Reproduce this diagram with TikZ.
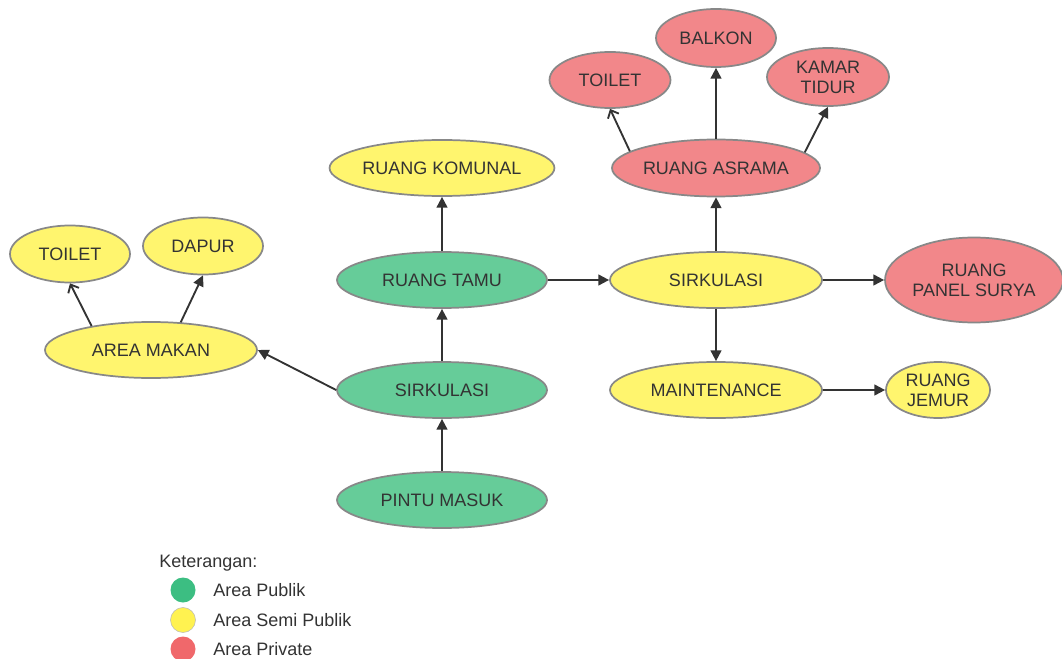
\documentclass[tikz,border=0pt]{standalone}
\usepackage{fontspec}
\setmainfont{Liberation Sans}
\usetikzlibrary{shapes.geometric,arrows.meta}

\definecolor{pubfill}{RGB}{102,204,153}
\definecolor{semifill}{RGB}{255,245,110}
\definecolor{privfill}{RGB}{242,135,138}
\definecolor{rim}{RGB}{136,136,136}
\definecolor{ink}{RGB}{51,51,51}
\definecolor{keypub}{RGB}{60,190,130}
\definecolor{keysemi}{RGB}{255,242,80}
\definecolor{keypriv}{RGB}{240,104,107}

\tikzset{
  room/.style={ellipse, draw=rim, line width=1.3pt, inner sep=0pt,
    text=ink, align=center, font=\fontsize{13.5}{15}\selectfont},
  pub/.style={room, fill=pubfill},
  semi/.style={room, fill=semifill},
  priv/.style={room, fill=privfill},
  big/.style={minimum width=210*0.75pt, minimum height=56*0.75pt},
  small/.style={minimum width=120*0.75pt, minimum height=57*0.75pt},
  link/.style={draw=ink, line width=1.4pt, -{Triangle[length=8pt,width=8pt]}},
  openlink/.style={draw=ink, line width=1.4pt, -{Straight Barb[length=5pt,width=9pt]}},
  keydot/.style={circle, minimum size=25*0.75pt, inner sep=0pt},
  keytext/.style={anchor=west, inner sep=0pt, text=ink, font=\fontsize{13.5}{15}\selectfont},
}

\begin{document}
\begin{tikzpicture}[x=0.75pt,y=-0.75pt]
\useasboundingbox (0,0) rectangle (1062,659);

% left wing: dining area
\node[semi, small] (toiletL) at (70,254) {TOILET};
\node[semi, small] (dapur) at (203,246) {DAPUR};
\node[semi, big, minimum width=212*0.75pt] (makan) at (151,350) {AREA MAKAN};

% central spine
\node[semi, big, minimum width=211*0.75pt] (komunal) at (442,168) {RUANG KOMUNAL};
\node[pub, big] (tamu) at (442,280) {RUANG TAMU};
\node[pub, big] (sirkL) at (442,390) {SIRKULASI};
\node[pub, big] (pintu) at (442,500) {PINTU MASUK};

% right wing: dormitory and service
\node[semi, big, minimum width=212*0.75pt] (sirkR) at (716,280) {SIRKULASI};
\node[priv, big, minimum width=208*0.75pt, minimum height=57*0.75pt] (asrama) at (716,168) {RUANG ASRAMA};
\node[priv, small, minimum height=58*0.75pt] (balkon) at (716,38) {BALKON};
\node[priv, small, minimum width=121*0.75pt, minimum height=56*0.75pt] (toiletR) at (610,80) {TOILET};
\node[priv, small, minimum width=122*0.75pt, minimum height=58*0.75pt] (kamar) at (828,77) {KAMAR\\TIDUR};
\node[priv, minimum width=178*0.75pt, minimum height=85*0.75pt] (panel) at (974,280) {RUANG\\PANEL SURYA};
\node[semi, big, minimum width=212*0.75pt] (maint) at (716,390) {MAINTENANCE};
\node[semi, minimum width=104*0.75pt, minimum height=56*0.75pt] (jemur) at (938,390) {RUANG\\JEMUR};

% connections
\draw[openlink] (makan.158) -- (toiletL.south);
\draw[link] (makan.43) -- (dapur.south);
\draw[link] (sirkL.west) -- (makan.east);
\draw[link] (pintu.north) -- (sirkL.south);
\draw[link] (sirkL.north) -- (tamu.south);
\draw[link] (tamu.north) -- (komunal.south);
\draw[link] (tamu.east) -- (sirkR.west);
\draw[link] (sirkR.north) -- (asrama.south);
\draw[link] (sirkR.east) -- (panel.west);
\draw[link] (sirkR.south) -- (maint.north);
\draw[link] (maint.east) -- (jemur.west);
\draw[openlink] (asrama.169) -- (toiletR.south);
\draw[link] (asrama.north) -- (balkon.south);
\draw[link] (asrama.10) -- (kamar.south);

% key
\node[keytext, anchor=base west] (keyhead) at (159,567) {Keterangan:};
\node[keydot, fill=keypub] (dotpub) at (183,590) {};
\node[keydot, fill=keysemi, draw=rim!60, line width=0.4pt] (dotsemi) at (183,620) {};
\node[keydot, fill=keypriv] (dotpriv) at (183,649) {};
\node[keytext] (lblpub) at (213,590) {Area Publik};
\node[keytext] (lblsemi) at (213,620) {Area Semi Publik};
\node[keytext] (lblpriv) at (213,649) {Area Private};
\end{tikzpicture}
\end{document}
